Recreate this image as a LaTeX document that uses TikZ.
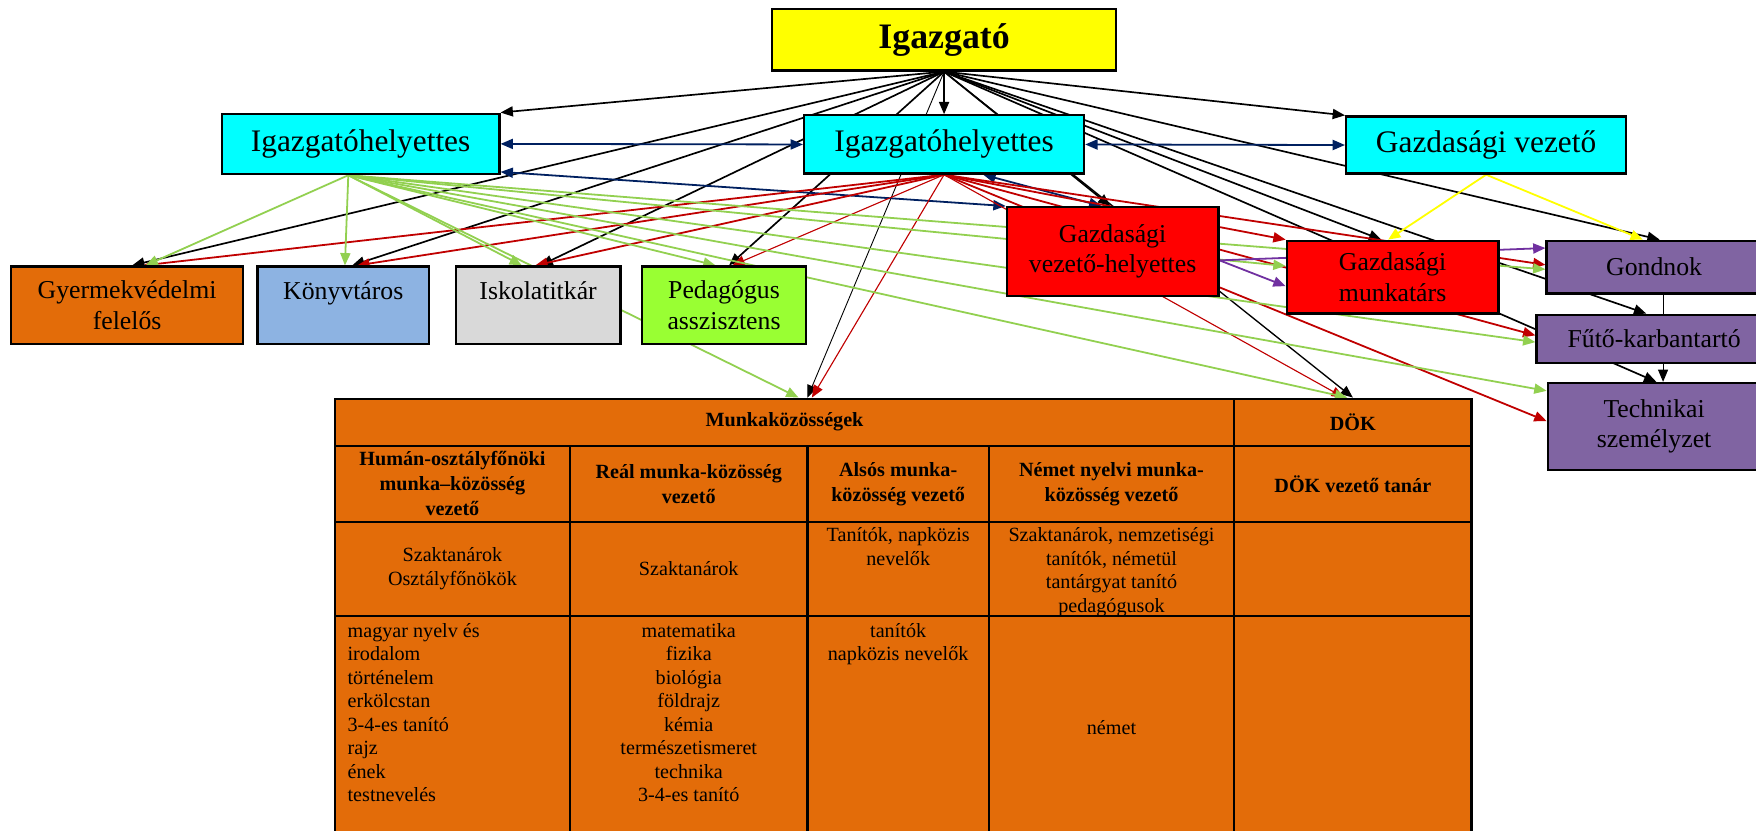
\documentclass[tikz,border=0pt]{standalone}
\usepackage{fontspec}
\setmainfont{Liberation Serif}
\usetikzlibrary{arrows.meta,backgrounds}
\definecolor{yel}{HTML}{FFFF00}
\definecolor{cyn}{HTML}{00FFFF}
\definecolor{rred}{HTML}{FF0000}
\definecolor{lila}{HTML}{8064A2}
\definecolor{orng}{HTML}{E36C09}
\definecolor{lblue}{HTML}{8DB3E2}
\definecolor{lgray}{HTML}{D9D9D9}
\definecolor{lime}{HTML}{99FF33}
\definecolor{navy}{HTML}{002060}
\definecolor{dred}{HTML}{C00000}
\definecolor{lgreen}{HTML}{92D050}
\definecolor{purp}{HTML}{7030A0}

\begin{document}
\begin{tikzpicture}[x=0.5pt,y=-0.5pt,
  box/.style={draw,line width=1pt,align=center,inner sep=2pt,font=\fontsize{11.5}{13.5}\selectfont},
  big/.style={box,font=\fontsize{14}{16}\selectfont},
  small/.style={box,minimum height=34.5pt},
  oneline/.style={text height=11.3pt,text depth=16pt},
  cell/.style={draw,line width=1pt,fill=orng,anchor=north west,inner sep=0pt,align=center},
  hd/.style={font=\fontsize{9}{11.2}\selectfont\bfseries},
  txt/.style={font=\fontsize{9}{10.5}\selectfont,align=center,inner sep=0pt},
  >={Triangle[length=5.5pt,width=4.5pt]},
  blk/.style={->,line width=0.75pt},
  thn/.style={->,line width=0.4pt},
  nav/.style={<->,draw=navy,line width=0.8pt},
  rd/.style={->,draw=dred,line width=0.8pt},
  gr/.style={->,draw=lgreen,line width=0.8pt},
  pu/.style={->,draw=purp,line width=0.8pt},
  ye/.style={->,draw=yel,line width=0.8pt}]
\useasboundingbox (0,0) rectangle (1568,742);
\clip (0,0) rectangle (1568,742);

\node[box,fill=yel,minimum width=153.5pt,minimum height=27.5pt,font=\fontsize{16}{19}\selectfont\bfseries] (ig) at (843,35.5) {Igazgató};
\node[big,fill=cyn,minimum width=124pt,minimum height=27pt] (h1) at (322,128.5) {Igazgatóhelyettes};
\node[big,fill=cyn,minimum width=125pt,minimum height=26pt] (h2) at (843,129) {Igazgatóhelyettes};
\node[big,fill=cyn,minimum width=125pt,minimum height=25.5pt] (gv) at (1327,129.5) {Gazdasági vezető};
\node[box,fill=rred,minimum width=94.5pt,minimum height=39.5pt] (gh) at (993.5,224.5) {Gazdasági\\vezető-helyettes};
\node[box,fill=rred,minimum width=94.5pt,minimum height=32.5pt] (gm) at (1243.5,247.5) {Gazdasági\\munkatárs};
\node[box,fill=lila,minimum width=96pt,minimum height=23.5pt] (gn) at (1477,238.5) {Gondnok};
\node[box,fill=lila,minimum width=105pt,minimum height=21.5pt] (fk) at (1477,302.5) {Fűtő-karbantartó};
\node[box,fill=lila,minimum width=95pt,minimum height=39pt] (ts) at (1477,381) {Technikai\\személyzet};
\node[small,fill=orng,minimum width=103.5pt] (gy) at (113.5,272.5) {Gyermekvédelmi\\felelős};
\node[small,oneline,fill=lblue,minimum width=76.5pt] (kt) at (306.5,272.5) {Könyvtáros};
\node[small,oneline,fill=lgray,minimum width=73.5pt] (it) at (480.5,272.5) {Iskolatitkár};
\node[small,fill=lime,minimum width=73.5pt] (pa) at (646.5,272.5) {Pedagógus\\asszisztens};

\node[cell,hd,minimum width=401.5pt,minimum height=21pt] (mk) at (298,355) {Munkaközösségek};
\node[cell,hd,minimum width=106pt,minimum height=21pt] (dk) at (1101,355) {DÖK};
\node[cell,hd,minimum width=105pt,minimum height=34pt] (r21) at (298,397) {Humán-osztályfőnöki\\munka–közösség\\vezető};
\node[cell,hd,minimum width=106pt,minimum height=34pt] (r22) at (508,397) {Reál munka-közösség\\vezető};
\node[cell,hd,minimum width=81pt,minimum height=34pt] (r23) at (720,397) {Alsós munka-\\közösség vezető};
\node[cell,hd,minimum width=109.5pt,minimum height=34pt] (r24) at (882,397) {Német nyelvi munka-\\közösség vezető};
\node[cell,hd,minimum width=106pt,minimum height=34pt] (r25) at (1101,397) {DÖK vezető tanár};
\node[cell,txt,minimum width=105pt,minimum height=42pt] (r31) at (298,465) {Szaktanárok\\Osztályfőnökök};
\node[cell,txt,minimum width=106pt,minimum height=42pt] (r32) at (508,465) {Szaktanárok};
\node[cell,minimum width=81pt,minimum height=42pt] (r33) at (720,465) {};
\node[cell,minimum width=109.5pt,minimum height=42pt] (r34) at (882,465) {};
\node[cell,minimum width=106pt,minimum height=42pt] (r35) at (1101,465) {};
\node[cell,minimum width=105pt,minimum height=100pt] (r41) at (298,549) {};
\node[cell,minimum width=106pt,minimum height=100pt] (r42) at (508,549) {};
\node[cell,minimum width=81pt,minimum height=100pt] (r43) at (720,549) {};
\node[cell,txt,minimum width=109.5pt,minimum height=100pt] (r44) at (882,549) {német};
\node[cell,minimum width=106pt,minimum height=100pt] (r45) at (1101,549) {};

\node[txt,anchor=north] (t33) at ([yshift=-3pt]r33.north) {Tanítók, napközis\\nevelők};
\node[txt,anchor=north] (t34) at ([yshift=-3pt]r34.north) {Szaktanárok, nemzetiségi\\tanítók, németül\\tantárgyat tanító\\pedagógusok};
\node[txt,align=left,anchor=north west] (t41) at ([xshift=6pt,yshift=-3.5pt]r41.north west) {magyar nyelv és\\irodalom\\történelem\\erkölcstan\\3-4-es tanító\\rajz\\ének\\testnevelés};
\node[txt,anchor=north] (t42) at ([yshift=-3.5pt]r42.north) {matematika\\fizika\\biológia\\földrajz\\kémia\\természetismeret\\technika\\3-4-es tanító};
\node[txt,anchor=north] (t43) at ([yshift=-3.5pt]r43.north) {tanítók\\napközis nevelők};

\begin{pgfonlayer}{background}
\draw[blk] (ig.south) -- (h1.north east);
\draw[blk] (ig.south) -- (h2.north);
\draw[blk] (ig.south) -- (gv.north west);
\draw[blk] (ig.south) -- ([xshift=2.25pt]gy.north);
\draw[blk] (ig.south) -- ([xshift=4pt]kt.north);
\draw[blk] (ig.south) -- ([xshift=1pt]it.north);
\draw[blk] (ig.south) -- ([xshift=2.25pt]pa.north);
\draw[thn] (ig.south) -- ([xshift=10.25pt]mk.north);
\draw[blk] (ig.south) -- ([xshift=-1pt]gh.north);
\draw[blk] (ig.south) -- ([xshift=-5pt]gm.north);
\draw[blk] (ig.south) -- ([xshift=2.5pt]gn.north);
\draw[blk] (ig.south) -- ([xshift=-3.5pt]fk.north);
\draw[blk] (ig.south) -- ([xshift=1pt]ts.north);
\draw[blk,line width=0.6pt] (ig.south) -- (dk.north);

\draw[nav] (h1.east) -- (h2.west);
\draw[nav] (h2.east) -- (gv.west);
\draw[nav] ([yshift=1.5pt]h1.south east) -- (gh.north west);
\draw[nav] ([xshift=17.5pt]h2.south) -- ([xshift=-5pt]gh.north);

\draw[rd] (h2.south) -- ([xshift=7.25pt]gy.north);
\draw[rd] (h2.south) -- ([xshift=6.25pt]kt.north);
\draw[rd] (h2.south) -- ([xshift=-1.25pt]it.north);
\draw[rd,line width=0.5pt] (h2.south) -- ([xshift=3.75pt]pa.north);
\draw[rd,line width=0.5pt] (h2.south) -- ([xshift=12.25pt]mk.north);
\draw[rd] (h2.south) -- (gm.north west);
\draw[rd] (h2.south) -- ([yshift=1pt]gn.west);
\draw[rd] (h2.south) -- ([yshift=1.5pt]fk.west);
\draw[rd] (h2.south) -- ([yshift=2.5pt]ts.west);
\draw[rd,line width=0.5pt] (h2.south) -- ([xshift=-4pt]dk.north);

\draw[gr] ([xshift=-5.5pt]h1.south) -- ([xshift=8.25pt]gy.north);
\draw[gr] ([xshift=-5.5pt]h1.south) -- ([xshift=0.75pt]kt.north);
\draw[gr] ([xshift=-5.5pt]h1.south) -- ([xshift=-7.25pt]it.north);
\draw[gr] ([xshift=-5.5pt]h1.south) -- ([xshift=-3.75pt]pa.north);
\draw[gr] ([xshift=-5.5pt]h1.south) -- ([xshift=6.25pt]mk.north);
\draw[gr] ([xshift=-5.5pt]h1.south) -- ([yshift=5pt]gm.west);
\draw[gr] ([xshift=-5.5pt]h1.south) -- ([yshift=-1pt]gn.west);
\draw[gr] ([xshift=-5.5pt]h1.south) -- ([yshift=-1.5pt]fk.west);
\draw[gr] ([xshift=-5.5pt]h1.south) -- ([yshift=-4pt]ts.north west);
\draw[gr] ([xshift=-5.5pt]h1.south) -- ([xshift=-2.5pt]dk.north);

\draw[pu] ([yshift=-4pt]gh.east) -- ([yshift=-4pt]gm.west);
\draw[pu] ([yshift=-4pt]gh.east) -- ([yshift=8.5pt]gn.west);

\draw[ye] (gv.south) -- ([xshift=-2pt]gm.north);
\draw[ye] (gv.south) -- ([xshift=-5pt]gn.north);

\draw[line width=0.4pt] ([xshift=4pt]gn.south) -- ([xshift=4pt]fk.north);
\draw[thn] ([xshift=4pt]fk.south) -- ([xshift=4pt]ts.north);
\end{pgfonlayer}
\end{tikzpicture}
\end{document}
